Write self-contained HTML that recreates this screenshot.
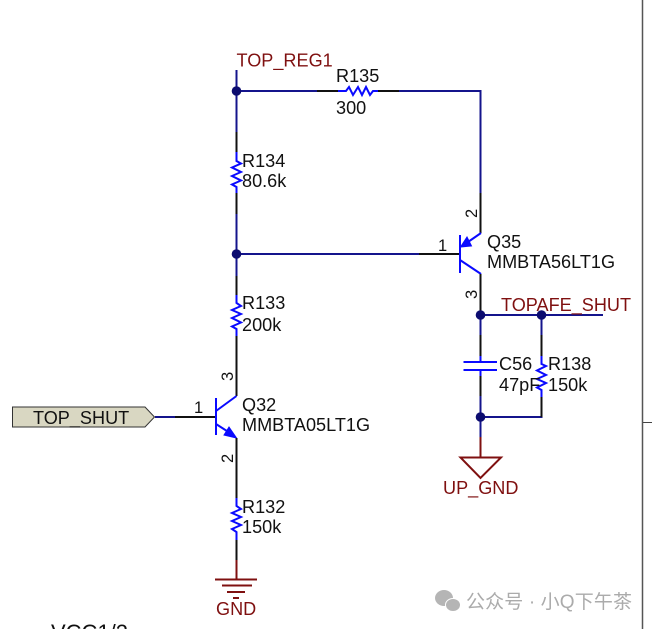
<!DOCTYPE html>
<html><head><meta charset="utf-8"><style>
html,body{margin:0;padding:0;background:#fff}
svg{display:block}
text{font-family:"Liberation Sans","Noto Sans CJK SC",sans-serif;font-size:18.1px;fill:#111}
.r{fill:#7f1010}
.p{font-size:16.500px}
.w{stroke:#14148c;stroke-width:2;fill:none}
.k{stroke:#111;stroke-width:2;fill:none}
.b{stroke:#0a0aff;stroke-width:2;fill:none}
.d{stroke:#7f1010;stroke-width:2;fill:none}
.n{fill:#0c0c70}
</style></head><body>
<svg width="652" height="629" viewBox="0 0 652 629" xmlns="http://www.w3.org/2000/svg">
<rect width="652" height="629" fill="#fff"/>
<path d="M642.5 0V629" stroke="#555" stroke-width="1.5"/>
<path d="M643 422.5H652" stroke="#444" stroke-width="1"/>

<!-- wires -->
<path class="w" d="M236.500 70V132M236.500 214V276M236.500 91H317M399 91H480.500V193M236.500 254H419"/>
<path class="k" d="M236.500 132V152M236.500 193V214M317 91H338M378 91H399M480.500 193V233M419 254H460M236.500 276V296M236.500 336V396"/>
<!-- R135 -->
<path class="b" d="M338 91H346L349 87 353 95 358 87 362 95 366 87 370 95 373 91H378"/>
<!-- R134 -->
<path class="b" d="M236.500 152V161L241 163.500 232 167.500 241 172 232 176 241 180.500 232 184.500 236.500 187V193"/>
<!-- R133 -->
<path class="b" d="M236.500 295V303L241 306 232 310 241 314 232 318 241 322.500 232 326.500 236.500 329V336"/>
<!-- Q35 -->
<path class="b" d="M460 235V273M460 260 481 274M481 233 468 242"/>
<path d="M460.500 247 467 237 471.500 246Z" fill="#0a0aff" stroke="#0a0aff" stroke-width="1"/>
<path class="k" d="M480.500 274V315"/>
<!-- right branch -->
<path class="w" d="M480.500 315H603M480.500 315V335M480.500 396V437M541.500 315V335M541.500 397V417H480.500"/>
<path class="k" d="M480.500 335V356M480.500 376V396M541.500 335V356M541.500 417V397"/>
<path class="b" d="M463.500 362H497M463.500 370H497M480.500 356V362M480.500 370V376"/>
<path class="b" d="M541.500 356V364L546 366 537 370.500 546 375 537 379 546 383 537 387.500 541.500 390V397"/>
<path class="d" d="M480.500 437V457M460.500 457.500H501L480.500 478Z"/>
<!-- dots -->
<circle class="n" cx="236.500" cy="91" r="4.800"/>
<circle class="n" cx="236.500" cy="254" r="4.800"/>
<circle class="n" cx="480.500" cy="315" r="4.800"/>
<circle class="n" cx="541.500" cy="315" r="4.800"/>
<circle class="n" cx="480.500" cy="417" r="4.800"/>
<!-- TOP_SHUT port -->
<path d="M12.500 407H145L154.500 417 145 427H12.500Z" fill="#d9d7c2" stroke="#333" stroke-width="1"/>
<path class="w" d="M155 417H175"/>
<path class="k" d="M175 417H216"/>
<!-- Q32 -->
<path class="b" d="M216 398V435M216 411 236.500 396M216 424 230 433"/>
<path d="M236.500 438 224 435 229 427Z" fill="#0a0aff" stroke="#0a0aff" stroke-width="1"/>
<path class="k" d="M236.500 438V498M236.500 540V560"/>
<path class="b" d="M236.500 498V506L241 509 232 513 241 517 232 521 241 525 232 529 236.500 532V540"/>
<path class="d" d="M236.500 560V579M215 579.500H257M222 585.500H252M227 592H245M233 598H239"/>

<!-- labels -->
<text class="r" x="236.500" y="66.500">TOP_REG1</text>
<text x="336" y="82">R135</text>
<text x="336" y="114">300</text>
<text x="242" y="167">R134</text>
<text x="242" y="187">80.6k</text>
<text x="242" y="309">R133</text>
<text x="242" y="331">200k</text>
<text x="242" y="513">R132</text>
<text x="242" y="533">150k</text>
<text x="242" y="411">Q32</text>
<text x="242" y="431">MMBTA05LT1G</text>
<text x="487" y="248">Q35</text>
<text x="487" y="268">MMBTA56LT1G</text>
<text class="r" x="501" y="311">TOPAFE_SHUT</text>
<text x="499" y="370">C56</text>
<text x="499" y="391">47pF</text>
<text x="548" y="370">R138</text>
<text x="548" y="391">150k</text>
<text class="r" x="443" y="494">UP_GND</text>
<text class="r" x="216" y="615">GND</text>
<text x="33" y="424">TOP_SHUT</text>
<text class="p" x="194" y="413">1</text>
<text class="p" x="438" y="251">1</text>
<text class="p" transform="translate(233,381) rotate(-90)">3</text>
<text class="p" transform="translate(233,463) rotate(-90)">2</text>
<text class="p" transform="translate(477,218) rotate(-90)">2</text>
<text class="p" transform="translate(477,299) rotate(-90)">3</text>
<text x="51" y="640" style="font-size:22px">VCC1/2</text>
<text x="6" y="640" style="font-size:20px;fill:#777">a on</text>
<text x="137" y="640" style="font-size:20px;fill:#777">are</text>

<!-- watermark -->
<ellipse cx="444" cy="598" rx="9" ry="8" fill="#b5b5b5"/>
<ellipse cx="453" cy="605" rx="7.500" ry="6.500" fill="#b5b5b5" stroke="#fff" stroke-width="1"/>
<text x="466" y="608" style="font-size:19px;fill:#ababab" textLength="166">公众号 · 小Q下午茶</text>
</svg>
</body></html>
